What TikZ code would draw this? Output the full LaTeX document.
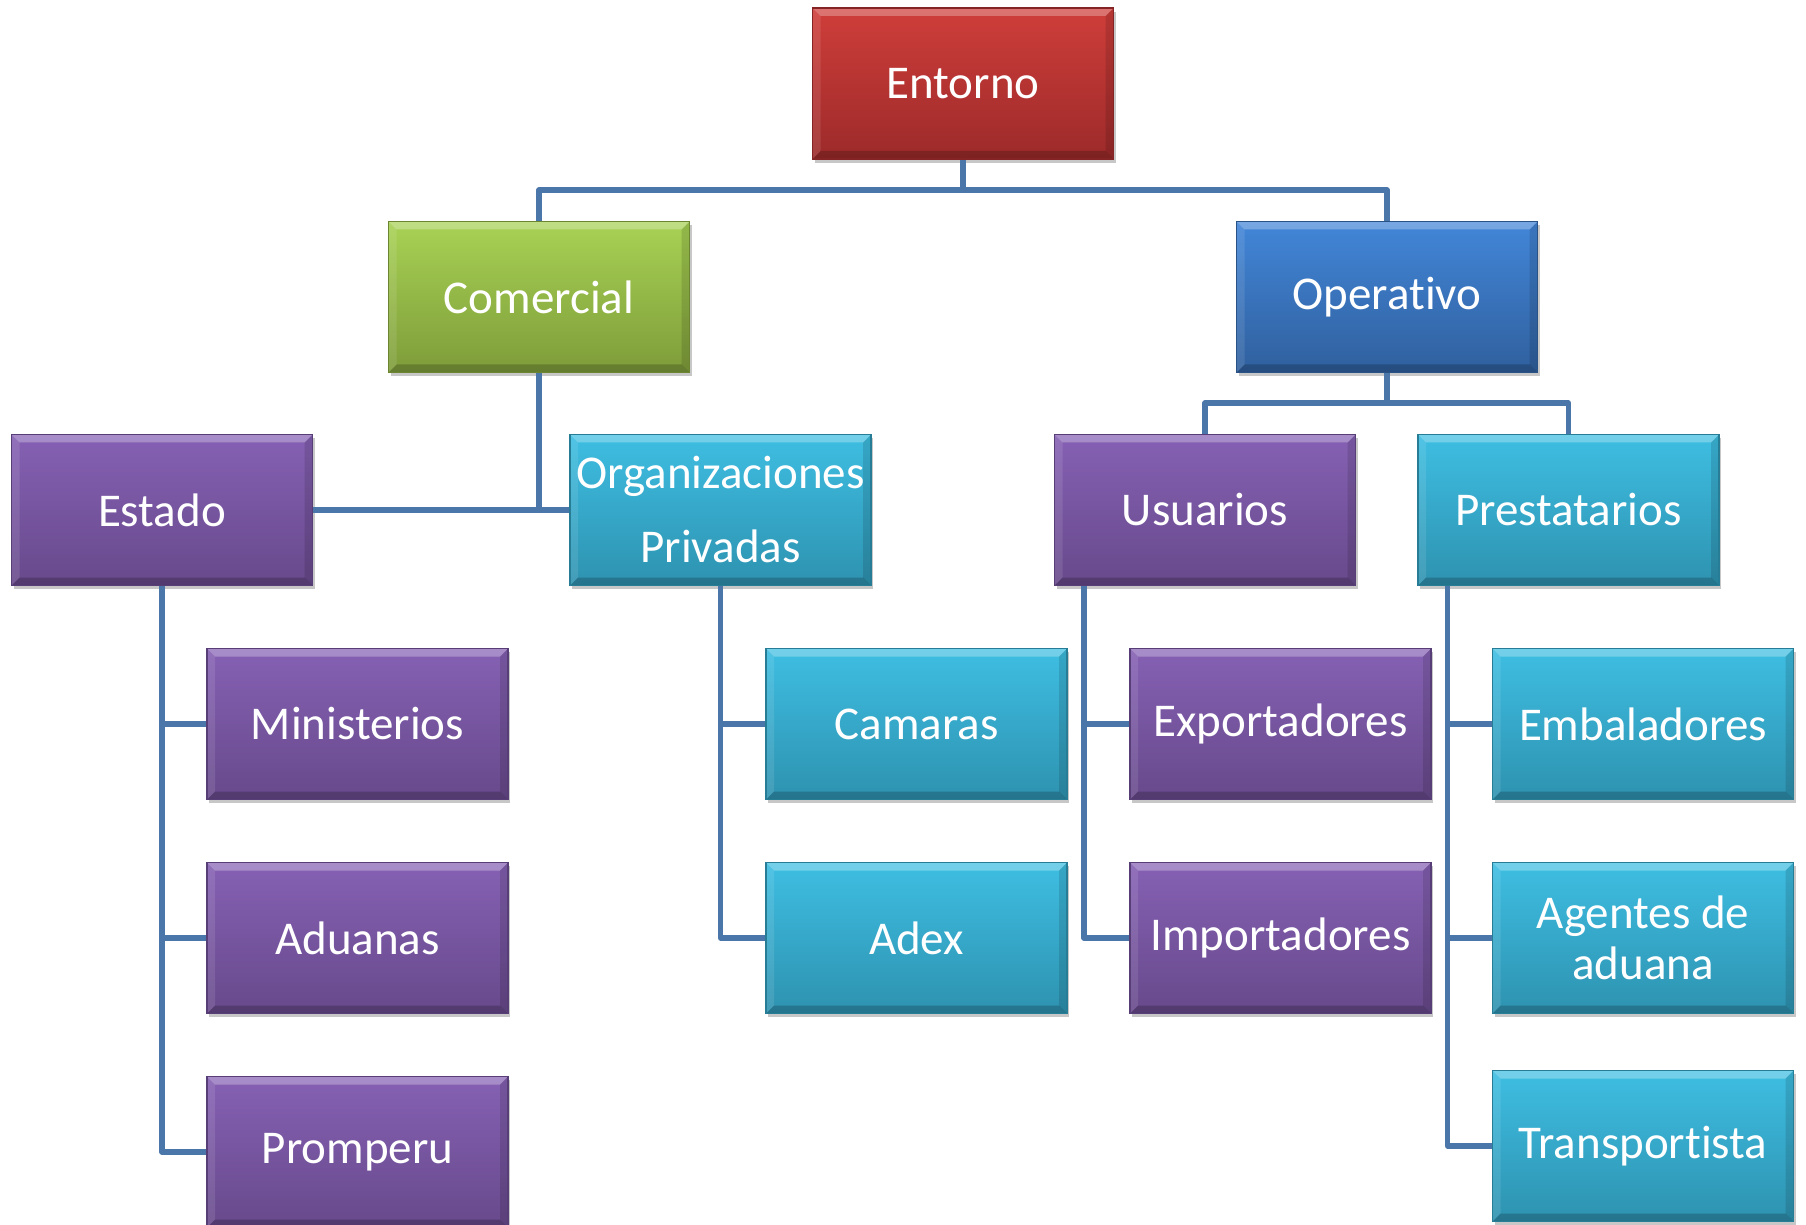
\documentclass[tikz,border=0pt]{standalone}
\usepackage{fontspec}
\setmainfont{Carlito}[Ligatures=NoCommon]
\usetikzlibrary{shadows}
\definecolor{rtop}{RGB}{207,62,58}
\definecolor{rbot}{RGB}{156,42,42}
\definecolor{gtop}{RGB}{168,210,84}
\definecolor{gbot}{RGB}{126,156,58}
\definecolor{btop}{RGB}{66,134,216}
\definecolor{bbot}{RGB}{48,96,158}
\definecolor{ptop}{RGB}{134,97,180}
\definecolor{pbot}{RGB}{103,73,139}
\definecolor{ctop}{RGB}{62,190,226}
\definecolor{cbot}{RGB}{46,146,176}
\definecolor{linecol}{RGB}{74,118,170}
\tikzset{
  bevel/.style={path picture={
    \path (path picture bounding box.north west) coordinate (bnw)
          (path picture bounding box.north east) coordinate (bne)
          (path picture bounding box.south west) coordinate (bsw)
          (path picture bounding box.south east) coordinate (bse);
    \fill[white,opacity=0.28] (bnw) -- (bne) -- ([shift={(-4pt,-4pt)}]bne) -- ([shift={(4pt,-4pt)}]bnw) -- cycle;
    \fill[white,opacity=0.10] (bnw) -- ([shift={(4pt,-4pt)}]bnw) -- ([shift={(4pt,4pt)}]bsw) -- (bsw) -- cycle;
    \fill[black,opacity=0.20] (bsw) -- ([shift={(4pt,4pt)}]bsw) -- ([shift={(-4pt,4pt)}]bse) -- (bse) -- cycle;
    \fill[black,opacity=0.12] (bne) -- (bse) -- ([shift={(-4pt,4pt)}]bse) -- ([shift={(-4pt,-4pt)}]bne) -- cycle;
  }},
  box/.style={rectangle, minimum width=150.5pt, minimum height=75.5pt, inner sep=0pt,
    text=white, align=center, font=\fontsize{23.5}{26}\selectfont, line width=0.6pt,
    drop shadow={shadow xshift=1pt, shadow yshift=-1.8pt, opacity=0.22, fill=black}, bevel},
  boxred/.style={box, top color=rtop, bottom color=rbot, draw=rbot!85!black},
  boxgreen/.style={box, top color=gtop, bottom color=gbot, draw=gbot!85!black},
  boxblue/.style={box, top color=btop, bottom color=bbot, draw=bbot!85!black},
  boxpurple/.style={box, top color=ptop, bottom color=pbot, draw=pbot!85!black},
  boxcyan/.style={box, top color=ctop, bottom color=cbot, draw=cbot!85!black},
  conn/.style={draw=linecol, line width=2.6pt, line join=round}
}
\begin{document}
\begin{tikzpicture}[x=0.5pt, y=-0.5pt]
\useasboundingbox (0,0) rectangle (1806,1225);
\clip (0,0) rectangle (1806,1225);
\fill[white] (0,0) rectangle (1806,1225);

% nodes
\node[boxred]    (ent) at (963,83.5)    {Entorno};
\node[boxgreen]  (com) at (539,297)     {Comercial};
\node[boxblue]   (op)  at (1387,297)    {Operativo};
\node[boxpurple] (est) at (162,510)     {Estado};
\node[boxcyan, font=\fontsize{23.5}{37}\selectfont] (org) at (720.5,510) {Organizaciones\\Privadas};
\node[boxpurple] (usu) at (1205,510)    {Usuarios};
\node[boxcyan]   (pre) at (1568.5,510)  {Prestatarios};
\node[boxpurple] (min) at (357.5,724)   {Ministerios};
\node[boxpurple] (adu) at (357.5,938)   {Aduanas};
\node[boxpurple] (pro) at (357.5,1152)  {Promperu};
\node[boxcyan]   (cam) at (916.5,724)   {Camaras};
\node[boxcyan]   (adx) at (916.5,938)   {Adex};
\node[boxpurple] (exp) at (1280.5,724)  {Exportadores};
\node[boxpurple] (imp) at (1280.5,938)  {Importadores};
\node[boxcyan]   (emb) at (1643,724)    {Embaladores};
\node[boxcyan, font=\fontsize{23.5}{25.5}\selectfont] (age) at (1643,938) {Agentes de\\aduana};
\node[boxcyan]   (tra) at (1643,1146)   {Transportista};

% junction coordinates
\coordinate (j1) at (963,190);
\coordinate (j2) at (539,510);
\coordinate (j3) at (1387,403);
\coordinate (u0) at ([xshift=15pt]usu.south west);
\coordinate (p0) at ([xshift=15pt]pre.south west);

% connectors
\draw[conn] (ent.south) -- (j1);
\draw[conn] (com.north) |- (j1) -| (op.north);
\draw[conn] (com.south) -- (j2);
\draw[conn] (est.east) -- (org.west);
\draw[conn] (op.south) -- (j3);
\draw[conn] (usu.north) |- (j3) -| (pre.north);

\draw[conn] (est.south) |- (pro.west);
\draw[conn] (min.west) -- (min.west -| est.south);
\draw[conn] (adu.west) -- (adu.west -| est.south);

\draw[conn] (org.south) |- (adx.west);
\draw[conn] (cam.west) -- (cam.west -| org.south);

\draw[conn] (u0) |- (imp.west);
\draw[conn] (exp.west) -- (exp.west -| u0);

\draw[conn] (p0) |- (tra.west);
\draw[conn] (emb.west) -- (emb.west -| p0);
\draw[conn] (age.west) -- (age.west -| p0);
\end{tikzpicture}
\end{document}
